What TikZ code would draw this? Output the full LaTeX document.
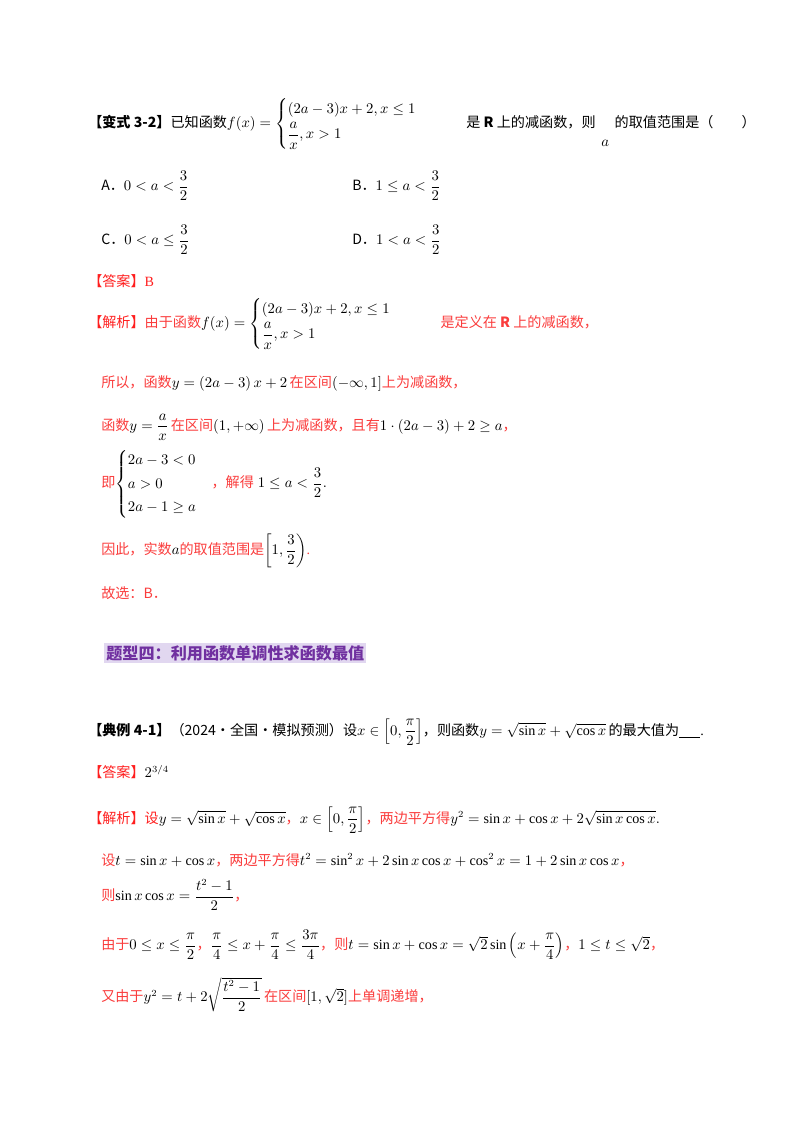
\documentclass[tikz,border=0pt]{standalone}
\usepackage{amsmath,amssymb}
\usepackage{fontspec}
\setmainfont{Liberation Serif}
\newfontfamily\cjk{Noto Sans CJK SC}
\definecolor{rd}{RGB}{255,30,30}
\definecolor{lrd}{RGB}{250,60,60}
\definecolor{pur}{RGB}{112,48,160}
\definecolor{pbg}{RGB}{225,215,240}
\newcommand{\zh}[1]{{\cjk #1}}
\newcommand{\mb}[1]{{\color{black}$#1$}}
\tikzset{ln/.style={anchor=west,inner sep=0pt,font=\fontsize{10.5}{13}\selectfont}}
\begin{document}
\begin{tikzpicture}[x=0.744pt,y=-0.744pt]
\useasboundingbox (0,0) rectangle (800,1132);
\node[ln] (q1) at (88,124) {\zh{\textbf{【变式 3-2】}已知函数}\mb{f(x)=\begin{cases}(2a-3)x+2,x\le1\\[2pt] \dfrac{a}{x},x>1\end{cases}}\hspace{2.5em}\zh{是 \textbf{R} 上的减函数，则\hspace{0.4em}}\raisebox{-14pt}{$a$}\hspace{0.4em}\zh{的取值范围是（\hspace{2em}）}};
\node[ln] (oA) at (101,186) {\zh{A．}$0<a<\dfrac{3}{2}$};
\node[ln] (oB) at (352,186) {\zh{B．}$1\le a<\dfrac{3}{2}$};
\node[ln] (oC) at (101,240) {\zh{C．}$0<a\le\dfrac{3}{2}$};
\node[ln] (oD) at (352,240) {\zh{D．}$1<a<\dfrac{3}{2}$};
\node[ln,text=rd] (ans1) at (88,281) {\zh{【答案】}B};
\node[ln,text=lrd] (s1) at (88,324) {\zh{\color{rd}【解析】}\zh{由于函数}\mb{f(x)=\begin{cases}(2a-3)x+2,x\le1\\[2pt] \dfrac{a}{x},x>1\end{cases}}\hspace{2.5em}\zh{是定义在 \textbf{R} 上的减函数，}};
\node[ln,text=lrd] (s2) at (101,383) {\zh{所以，函数}\mb{y=\left(2a-3\right)x+2}\,\zh{在区间}\mb{\left(-\infty,1\right]}\zh{上为减函数，}};
\node[ln,text=lrd] (s3) at (101,427) {\zh{函数}\mb{y=\dfrac{a}{x}}\,\zh{在区间}\mb{(1,+\infty)}\,\zh{上为减函数，且有}\mb{1\cdot\left(2a-3\right)+2\ge a}\zh{，}};
\node[ln,text=lrd] (s4) at (101,484) {\zh{即}\mb{\begin{cases}2a-3<0\\[2pt] a>0\\[2pt] 2a-1\ge a\end{cases}}\zh{，解得}\;\mb{1\le a<\dfrac{3}{2}}\mb{.}};
\node[ln,text=lrd] (s5) at (101,551) {\zh{因此，实数}\mb{a}\zh{的取值范围是}\mb{\left[1,\dfrac{3}{2}\right)}.};
\node[ln,text=lrd] (s6) at (101,593) {\zh{故选：B．}};
\node[ln,fill=pbg,text=pur,inner sep=1.5pt,font=\fontsize{12}{14}\selectfont] (h) at (104,653) {\zh{\textbf{题型四：利用函数单调性求函数最值}}};
\node[ln] (q2) at (88,732) {\zh{\textbf{【典例 4-1】}（2024·全国·模拟预测）设}$x\in\left[0,\dfrac{\pi}{2}\right]$\zh{，则函数}$y=\sqrt{\sin x}+\sqrt{\cos x}$\,\zh{的最大值为}\underline{\hspace{1.5em}}.};
\node[ln,text=rd] (ans2) at (88,772) {\zh{【答案】}\mb{2^{3/4}}};
\node[ln,text=lrd] (t1) at (88,820) {\zh{\color{rd}【解析】设}\mb{y=\sqrt{\sin x}+\sqrt{\cos x}}\zh{，}\mb{x\in\left[0,\dfrac{\pi}{2}\right]}\zh{，两边平方得}\mb{y^2=\sin x+\cos x+2\sqrt{\sin x\cos x}}\mb{.}};
\node[ln,text=lrd] (t2) at (101,860) {\zh{设}\mb{t=\sin x+\cos x}\zh{，两边平方得}\mb{t^2=\sin^2x+2\sin x\cos x+\cos^2x=1+2\sin x\cos x}\zh{，}};
\node[ln,text=lrd] (t3) at (101,895) {\zh{则}\mb{\sin x\cos x=\dfrac{t^2-1}{2}}\zh{，}};
\node[ln,text=lrd] (t4) at (101,945) {\zh{由于}\mb{0\le x\le\dfrac{\pi}{2}}\zh{，}\mb{\dfrac{\pi}{4}\le x+\dfrac{\pi}{4}\le\dfrac{3\pi}{4}}\zh{，则}\mb{t=\sin x+\cos x=\sqrt2\sin\left(x+\dfrac{\pi}{4}\right)}\zh{，}\mb{1\le t\le\sqrt2}\zh{，}};
\node[ln,text=lrd] (t5) at (101,995) {\zh{又由于}\mb{y^2=t+2\sqrt{\dfrac{t^2-1}{2}}}\,\zh{在区间}\mb{[1,\sqrt2]}\zh{上单调递增，}};
\end{tikzpicture}
\end{document}
